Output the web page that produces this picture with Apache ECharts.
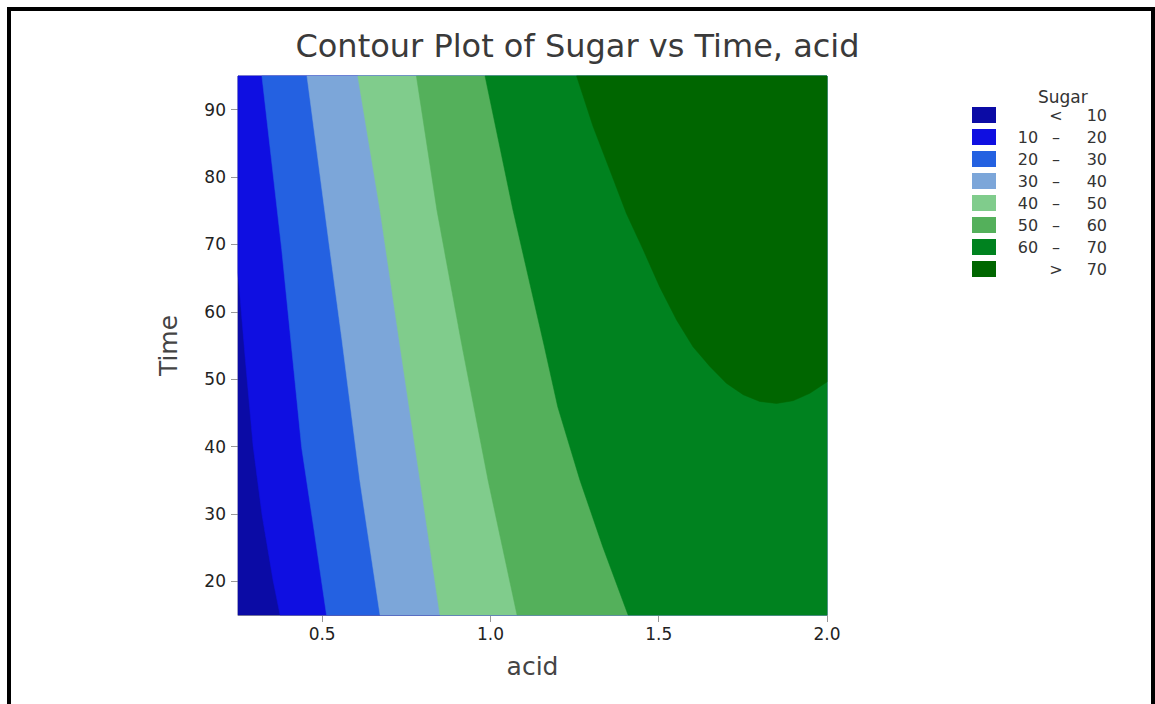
<!DOCTYPE html>
<html>
<head>
<meta charset="utf-8">
<script src="https://cdn.jsdelivr.net/npm/echarts@6/dist/echarts.min.js"></script>
<style>
  body { margin: 0; background: #fff; }
  #frame { position: absolute; left: 7px; top: 7px; width: 1140px; height: 720px; border: 4px solid #000; }
  #sugar-chart { position: absolute; left: 0; top: 0; width: 1155px; height: 704px; }
</style>
</head>
<body>
<div id="frame"></div>
<div id="sugar-chart"></div>
<script>
const acidRange = [0.25, 2.0];
const timeRange = [15, 95];
const acidTicks = [0.5, 1.0, 1.5, 2.0];
const timeTicks = [20, 30, 40, 50, 60, 70, 80, 90];

const bandNames = ["< 10", "10 – 20", "20 – 30", "30 – 40", "40 – 50", "50 – 60", "60 – 70", "> 70"];
const bandColors = ["#0b0ba5", "#0f0fe1", "#2461e1", "#7ca6d9", "#80cc8c", "#54b05b", "#00821f", "#006600"];

// contour lines, [acid, Time]
const contour10 = [[0.25, 65.8], [0.272, 52.8], [0.295, 40.0], [0.321, 30.0], [0.354, 20.2], [0.375, 15]];
const contour20 = [[0.321, 95], [0.380, 69.2], [0.439, 39.9], [0.476, 27.6], [0.513, 15]];
const contour30 = [[0.455, 95], [0.523, 69.2], [0.559, 55.8], [0.612, 35.0], [0.672, 15]];
const contour40 = [[0.606, 95], [0.672, 75.1], [0.731, 55.1], [0.791, 35.0], [0.850, 15]];
const contour50 = [[0.780, 95], [0.841, 75.1], [0.915, 55.1], [0.993, 35.0], [1.079, 15]];
const contour60 = [[0.984, 95], [1.067, 75.1], [1.159, 55.1], [1.200, 45.9], [1.266, 35.0],
                   [1.334, 25.1], [1.409, 15]];
const contour70 = [[1.256, 95], [1.305, 87.5], [1.355, 81.0], [1.404, 74.6], [1.454, 69.2],
                   [1.503, 63.7], [1.553, 58.8], [1.602, 54.8], [1.652, 51.9], [1.701, 49.4],
                   [1.751, 47.7], [1.800, 46.7], [1.850, 46.4], [1.899, 46.8], [1.949, 47.9],
                   [2.0, 49.6]];

// region to the right of a contour line, closed along the plot edges
function regionAbove(line) {
  const pts = line.slice();
  const start = line[0], end = line[line.length - 1];
  if (end[1] === timeRange[0]) pts.push([acidRange[1], timeRange[0]]);
  pts.push([acidRange[1], timeRange[1]]);
  if (start[0] === acidRange[0] && start[1] !== timeRange[1]) pts.push([acidRange[0], timeRange[1]]);
  return pts;
}

const fullRect = [[acidRange[0], timeRange[0]], [acidRange[1], timeRange[0]],
                  [acidRange[1], timeRange[1]], [acidRange[0], timeRange[1]]];
const bandShapes = [fullRect].concat(
  [contour10, contour20, contour30, contour40, contour50, contour60, contour70].map(regionAbove)
);

// legend label in three columns: low, dash / sign, high
function legendLabel(name) {
  const parts = name.split(" ");
  if (parts.length === 2) return "{a|}{b|" + parts[0] + "}{c|" + parts[1] + "}";
  return "{a|" + parts[0] + "}{b|" + parts[1] + "}{c|" + parts[2] + "}";
}

const font = "DejaVu Sans";
const chart = echarts.init(document.getElementById("sugar-chart"), null, { renderer: "svg" });
const labelFont = { fontFamily: font, fontSize: 17, color: "#222" };
const legendCell = { fontFamily: font, fontSize: 16, color: "#333", lineHeight: 16 };

chart.setOption({
  animation: false,
  title: [
    {
      text: "Contour Plot of Sugar vs Time, acid",
      left: "center",
      top: 25,
      textStyle: { fontFamily: font, fontSize: 32, fontWeight: "normal", color: "#3a3a3a" }
    },
    {
      text: "Sugar",
      left: 1033,
      top: 83,
      textStyle: { fontFamily: font, fontSize: 17, fontWeight: "normal", color: "#333" }
    }
  ],
  legend: {
    orient: "vertical",
    left: 972,
    top: 107,
    padding: 0,
    icon: "rect",
    itemWidth: 24,
    itemHeight: 16,
    itemGap: 6,
    selectedMode: false,
    data: bandNames,
    formatter: legendLabel,
    textStyle: {
      fontFamily: font,
      fontSize: 16,
      color: "#333",
      rich: {
        a: Object.assign({ width: 54, align: "center" }, legendCell),
        b: Object.assign({ width: 2, align: "center" }, legendCell),
        c: Object.assign({ width: 50, align: "right" }, legendCell)
      }
    }
  },
  grid: {
    left: 238,
    right: 328,
    top: 76,
    bottom: 89,
    show: true,
    borderColor: "#a8a8a8",
    borderWidth: 1
  },
  xAxis: {
    type: "value",
    min: acidRange[0],
    max: acidRange[1],
    name: "acid",
    nameLocation: "middle",
    nameGap: 39,
    nameTextStyle: { fontFamily: font, fontSize: 25, color: "#444" },
    axisLine: { show: true, lineStyle: { color: "#999" } },
    axisTick: { show: true, length: 7, lineStyle: { color: "#999" }, customValues: acidTicks },
    axisLabel: Object.assign({ margin: 10, customValues: acidTicks, formatter: v => v.toFixed(1) }, labelFont),
    splitLine: { show: false }
  },
  yAxis: {
    type: "value",
    min: timeRange[0],
    max: timeRange[1],
    name: "Time",
    nameLocation: "middle",
    nameGap: 57,
    nameTextStyle: { fontFamily: font, fontSize: 25, color: "#444" },
    axisLine: { show: true, lineStyle: { color: "#999" } },
    axisTick: { show: true, length: 7, lineStyle: { color: "#999" }, customValues: timeTicks },
    axisLabel: Object.assign({ margin: 12, customValues: timeTicks }, labelFont),
    splitLine: { show: false }
  },
  series: bandNames.map((name, i) => ({
    type: "custom",
    name: name,
    silent: true,
    itemStyle: { color: bandColors[i] },
    data: [[acidRange[0], timeRange[0]]],
    renderItem: (params, api) => ({
      type: "polygon",
      shape: { points: bandShapes[i].map(p => api.coord(p)) },
      style: { fill: bandColors[i], stroke: bandColors[i], lineWidth: 0.5 }
    })
  }))
});
</script>
</body>
</html>
